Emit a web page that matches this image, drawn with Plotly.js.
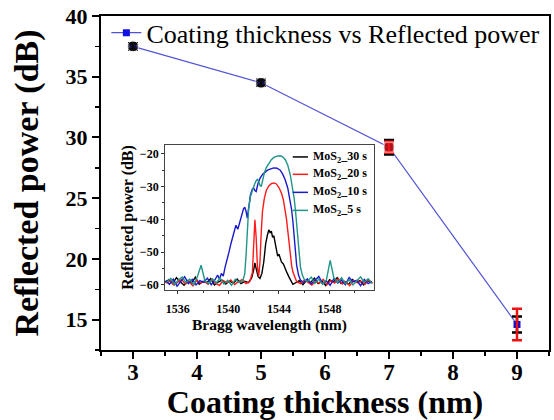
<!DOCTYPE html>
<html>
<head>
<meta charset="utf-8">
<script src="https://cdn.plot.ly/plotly-3.0.1.min.js"></script>
<style>html,body{margin:0;padding:0;background:#fff}#chart{width:554px;height:420px}</style>
</head>
<body>
<div id="chart"></div>
<script>
// ---- Main data ----
const thickness = [3, 5, 7, 9];
const reflectedPower = [37.5, 34.5, 29.2, 14.6];
const errBlack = [0.25, 0.25, 0.6, 0.65];
const redX = [7, 9];
const redY = [29.2, 14.6];
const errRed = [0.45, 1.3];
const mainLegend = "Coating thickness vs Reflected power";

// ---- Inset data (Bragg spectra) ----
const seriesNames = ["MoS<sub>2</sub>_30 s", "MoS<sub>2</sub>_20 s", "MoS<sub>2</sub>_10 s", "MoS<sub>2</sub>_5 s"];

const wl30 = [1535.0,1535.3,1535.6,1535.9,1536.2,1536.5,1536.8,1537.1,1537.4,1537.7,1538.0,1538.3,1538.6,1538.9,1539.2,1539.5,1539.8,1540.1,1540.4,1540.7,1541.0,1541.3,1541.6,
  1541.85,1542.0,1542.1,1542.2,1542.35,1542.5,1542.65,1542.8,1542.95,1543.1,
  1543.2,1543.3,1543.4,1543.5,1543.6,1543.7,1543.8,1543.9,1544.0,1544.1,1544.2,
  1544.35,1544.5,1544.65,1544.8,1544.95,1545.1,1545.3,
  1545.6,1545.9,1546.2,1546.5,1546.8,1547.1,1547.4,1547.7,1548.0,1548.3,1548.6,1548.9,1549.2,1549.5,1549.8,1550.1,1550.4,1550.7,1551.0,1551.3];
const p30 = [-59.2,-58.4,-59.6,-57.8,-59.0,-60.1,-58.6,-59.4,-57.6,-59.8,-58.9,-59.3,-58.1,-60.0,-59.1,-58.5,-59.7,-58.8,-59.5,-58.2,-59.6,-58.9,-59.3,
  -57.8,-55.5,-53.3,-55.0,-57.4,-58.0,-56.5,-53.0,-47.5,-44.6,
  -43.2,-44.0,-43.6,-45.5,-45.0,-47.2,-49.0,-51.2,-50.6,-51.8,-53.0,
  -53.6,-55.2,-56.4,-57.6,-58.6,-59.8,-59.4,
  -58.7,-59.9,-58.5,-59.3,-57.9,-59.6,-58.8,-60.2,-58.4,-59.1,-57.8,-59.5,-58.9,-59.8,-58.3,-59.2,-58.7,-60.0,-58.6,-59.4];

const wl20 = [1535.1,1535.4,1535.7,1536.0,1536.3,1536.6,1536.9,1537.2,1537.5,1537.8,1538.1,1538.4,1538.7,1539.0,1539.3,1539.6,1539.9,1540.2,1540.5,1540.8,1541.1,1541.4,1541.7,
  1541.9,1542.0,1542.1,1542.2,1542.3,1542.4,1542.5,1542.6,1542.7,1542.85,1543.0,1543.2,1543.4,1543.6,1543.8,1544.0,1544.2,1544.35,1544.5,1544.6,1544.7,1544.8,1544.9,1545.0,1545.1,1545.25,1545.4,
  1545.7,1546.0,1546.3,1546.6,1546.9,1547.2,1547.5,1547.8,1548.1,1548.4,1548.7,1549.0,1549.3,1549.6,1549.9,1550.2,1550.5,1550.8,1551.1,1551.4];
const p20 = [-59.5,-58.8,-60.0,-59.1,-58.3,-59.7,-59.0,-60.3,-58.6,-59.4,-58.9,-59.8,-58.2,-59.5,-60.1,-58.7,-59.3,-58.5,-59.9,-59.0,-58.4,-59.6,-58.9,
  -56.3,-50.0,-40.1,-45.5,-54.5,-57.4,-53.0,-44.0,-37.5,-33.5,-31.2,-29.8,-29.1,-28.9,-29.2,-30.3,-32.0,-34.0,-37.0,-40.0,-43.5,-47.5,-51.0,-54.0,-56.0,-57.8,-59.0,
  -59.6,-58.5,-59.2,-60.0,-58.8,-59.5,-58.3,-59.9,-58.7,-59.4,-58.1,-59.7,-59.0,-60.2,-58.6,-59.3,-58.9,-59.8,-58.4,-59.5];

const wl10 = [1535.05,1535.35,1535.65,1535.95,1536.25,1536.55,1536.85,1537.15,1537.45,1537.75,1538.05,1538.35,1538.65,1538.95,
  1539.15,1539.3,1539.45,1539.6,1539.75,1539.9,1540.05,1540.2,1540.35,1540.5,
  1540.6,1540.75,1540.9,1541.05,1541.2,1541.3,1541.4,1541.5,1541.6,1541.75,
  1541.9,1542.0,1542.1,1542.2,1542.35,1542.5,1542.7,1542.9,1543.1,1543.35,
  1543.6,1543.85,1544.1,1544.3,1544.5,1544.7,1544.85,1545.0,1545.1,1545.2,
  1545.3,1545.4,1545.55,1545.7,
  1545.95,1546.25,1546.55,1546.85,1547.15,1547.45,1547.75,1548.05,1548.35,1548.65,1548.95,1549.25,1549.55,1549.85,1550.15,1550.45,1550.75,1551.05,1551.35];
const p10 = [-58.6,-59.8,-58.2,-60.4,-58.9,-57.5,-59.6,-58.3,-60.0,-58.7,-59.2,-57.9,-59.9,-58.4,
  -57.0,-58.2,-56.5,-57.3,-54.5,-52.5,-50.0,-47.5,-45.0,-42.5,
  -41.8,-43.0,-41.0,-38.5,-36.8,-36.3,-37.5,-39.6,-37.0,-32.5,
  -30.8,-30.4,-31.2,-31.5,-29.0,-27.5,-26.3,-25.5,-25.0,-24.6,
  -24.3,-24.4,-25.0,-26.2,-28.0,-30.5,-33.5,-37.0,-40.5,-45.0,
  -50.0,-54.0,-57.0,-58.5,
  -59.3,-58.1,-59.7,-58.6,-57.4,-59.5,-58.8,-60.1,-58.0,-59.4,-58.5,-59.9,-57.7,-59.1,-58.6,-60.2,-58.3,-59.6,-58.9];

const wl5 = [1535.15,1535.45,1535.75,1536.05,1536.35,1536.65,1536.95,1537.25,1537.55,1537.85,1538.15,1538.45,1538.75,1539.05,1539.35,1539.65,1539.95,1540.25,1540.55,1540.85,1541.15,
  1541.3,1541.4,1541.5,1541.6,1541.75,1541.9,1542.05,1542.2,1542.3,1542.4,
  1542.5,1542.6,1542.7,1542.85,1543.0,1543.2,1543.4,1543.6,1543.85,1544.1,
  1544.3,1544.5,1544.7,1544.9,1545.05,1545.2,1545.3,1545.4,1545.5,1545.6,
  1545.7,1545.85,1546.0,
  1546.25,1546.55,1546.85,1547.15,1547.45,1547.75,1548.05,1548.35,1548.65,1548.95,1549.25,1549.55,1549.85,1550.15,1550.45,1550.75,1551.05,1551.35];
const p5 = [-59.0,-58.0,-59.9,-58.5,-57.6,-59.3,-58.2,-60.0,-57.5,-54.0,-58.8,-59.6,-58.1,-59.4,-57.9,-59.7,-58.6,-60.1,-58.3,-59.2,-58.7,
  -56.5,-51.0,-43.0,-37.0,-33.0,-31.0,-29.5,-28.2,-27.8,-28.5,
  -29.6,-30.0,-28.0,-25.8,-24.2,-22.8,-21.8,-21.1,-20.7,-20.6,
  -20.9,-21.8,-23.5,-26.5,-29.5,-33.5,-37.0,-42.0,-47.0,-51.5,
  -54.5,-57.0,-58.3,
  -58.9,-57.6,-59.5,-58.2,-59.8,-58.5,-52.5,-58.0,-59.3,-57.8,-59.6,-58.4,-60.0,-58.7,-57.5,-59.2,-58.1,-59.5];

// ---- Styles ----
const SERIF = "Liberation Serif";
const insetColors = ["#000000", "#ff1a1a", "#1a1acc", "#1f9488"];

const traces = [
  {x: thickness, y: reflectedPower, name: mainLegend, type: "scatter", mode: "lines+markers",
   line: {color: "#5252d6", width: 1.2}, marker: {symbol: "square", size: 7, color: "#1010e6"}},
  {x: thickness, y: reflectedPower, type: "scatter", mode: "markers", showlegend: false,
   marker: {symbol: "circle", size: [11, 11, 11, 0], color: "#111"},
   error_y: {type: "data", array: errBlack, color: "#000", thickness: 2.5, width: 5}},
  {x: redX, y: redY, type: "scatter", mode: "markers", showlegend: false,
   marker: {symbol: "square", size: [10, 0], color: "#ee1111"},
   error_y: {type: "data", array: errRed, color: "#ee1111", thickness: 2.5, width: 5}}
];
const insetX = [wl30, wl20, wl10, wl5];
const insetY = [p30, p20, p10, p5];
for (let i = 0; i < 4; i++) {
  traces.push({x: insetX[i], y: insetY[i], xaxis: "x2", yaxis: "y2", type: "scatter", mode: "lines",
    showlegend: false, name: seriesNames[i], line: {color: insetColors[i], width: 1.4}});
}

// inset legend drawn with shapes + annotations (paper coords)
const shapes = [], annotations = [];
const legRows = [0.578, 0.526, 0.472, 0.418];
for (let i = 0; i < 4; i++) {
  shapes.push({type: "line", xref: "paper", yref: "paper", x0: 0.428, x1: 0.462, y0: legRows[i], y1: legRows[i],
    line: {color: insetColors[i], width: 1.5}});
  annotations.push({xref: "paper", yref: "paper", x: 0.469, y: legRows[i], xanchor: "left", yanchor: "middle",
    text: seriesNames[i], showarrow: false, font: {family: SERIF, size: 12, weight: "bold", color: "#000"}});
}

const layout = {
  width: 554, height: 420,
  margin: {l: 101, r: 5, t: 16, b: 70, autoexpand: false},
  paper_bgcolor: "#fff", plot_bgcolor: "#fff",
  font: {family: SERIF, color: "#000"},
  showlegend: true,
  legend: {x: 0.012, xanchor: "left", y: 1.02, yanchor: "top", bgcolor: "rgba(0,0,0,0)",
    font: {family: SERIF, size: 26, color: "#000"}, borderwidth: 0},
  xaxis: {range: [2.5, 9.5], tick0: 3, dtick: 1, ticks: "outside", ticklen: 7, tickwidth: 2, tickcolor: "#000",
    minor: {dtick: 0.5, ticks: "outside", ticklen: 4, tickwidth: 1.5, tickcolor: "#000"},
    showline: true, linewidth: 2, linecolor: "#000", mirror: true, showgrid: false, zeroline: false,
    automargin: false, ticklabelstandoff: -7,
    tickfont: {family: SERIF, size: 23, weight: "bold"},
    title: {text: "Coating thickness (nm)", font: {family: SERIF, size: 32, weight: "bold"}, standoff: 0}},
  yaxis: {range: [12.5, 40], tick0: 0, dtick: 5, ticks: "outside", ticklen: 7, tickwidth: 2, tickcolor: "#000",
    minor: {dtick: 2.5, ticks: "outside", ticklen: 4, tickwidth: 1.5, tickcolor: "#000"},
    showline: true, linewidth: 2, linecolor: "#000", mirror: true, showgrid: false, zeroline: false,
    automargin: false,
    tickfont: {family: SERIF, size: 22, weight: "bold"},
    title: {text: "Reflected power (dB)", font: {family: SERIF, size: 34, weight: "bold"}, standoff: 17}},
  xaxis2: {domain: [0.143, 0.609], anchor: "y2", range: [1535, 1551.5], tick0: 1536, dtick: 4,
    ticks: "outside", ticklen: 3, tickwidth: 1, tickcolor: "#333",
    minor: {dtick: 2, ticks: "outside", ticklen: 2, tickcolor: "#333"},
    showline: true, linewidth: 1, linecolor: "#444", mirror: true, showgrid: false, zeroline: false,
    automargin: false, tickangle: 0, ticklabelstandoff: 5,
    tickfont: {family: SERIF, size: 12, weight: "bold"},
    title: {text: "Bragg wavelength (nm)", font: {family: SERIF, size: 15.5, weight: "bold"}, standoff: 0}},
  yaxis2: {domain: [0.18, 0.614], anchor: "x2", range: [-61.5, -17.3], dtick: 10,
    ticks: "outside", ticklen: 3, tickwidth: 1, tickcolor: "#333",
    minor: {dtick: 5, ticks: "outside", ticklen: 2, tickcolor: "#333"},
    showline: true, linewidth: 1, linecolor: "#444", mirror: true, showgrid: false, zeroline: false,
    automargin: false,
    tickfont: {family: SERIF, size: 12, weight: "bold"},
    title: {text: "Reflected power (dB)", font: {family: SERIF, size: 16, weight: "bold"}, standoff: 2}},
  shapes: shapes,
  annotations: annotations
};

Plotly.newPlot("chart", traces, layout, {displayModeBar: false, staticPlot: true});
</script>
</body>
</html>
